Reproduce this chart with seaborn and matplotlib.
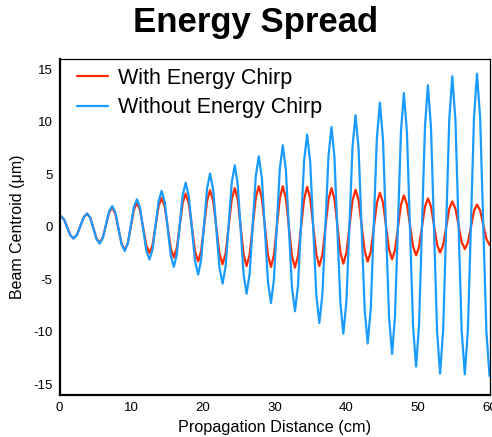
import matplotlib
matplotlib.use("Agg")
import matplotlib.pyplot as plt
from matplotlib.ticker import MultipleLocator
import seaborn as sns
import pandas as pd

distance = [
    0.0,
    0.2, 0.64, 1.08, 1.51,
    1.95, 2.43, 2.9, 3.38,
    3.85, 4.29, 4.73, 5.16,
    5.6, 6.04, 6.48, 6.91,
    7.35, 7.79, 8.23, 8.66,
    9.1, 9.53, 9.95, 10.38,
    10.8, 11.24, 11.68, 12.11,
    12.55, 12.98, 13.4, 13.83,
    14.25, 14.68, 15.1, 15.53,
    15.95, 16.36, 16.78, 17.19,
    17.6, 18.04, 18.48, 18.91,
    19.35, 19.76, 20.18, 20.59,
    21.0, 21.44, 21.88, 22.31,
    22.75, 23.18, 23.6, 24.03,
    24.45, 24.86, 25.28, 25.69,
    26.1, 26.53, 26.95, 27.38,
    27.8, 28.23, 28.65, 29.08,
    29.5, 29.91, 30.33, 30.74,
    31.15, 31.58, 32.0, 32.43,
    32.85, 33.28, 33.7, 34.13,
    34.55, 34.98, 35.4, 35.83,
    36.25, 36.68, 37.1, 37.53,
    37.95, 38.36, 38.78, 39.19,
    39.6, 40.03, 40.45, 40.88,
    41.3, 41.73, 42.15, 42.58,
    43.0, 43.43, 43.85, 44.28,
    44.7, 45.13, 45.55, 45.98,
    46.4, 46.81, 47.23, 47.64,
    48.05, 48.48, 48.9, 49.33,
    49.75, 50.16, 50.58, 50.99,
    51.4, 51.83, 52.25, 52.68,
    53.1, 53.53, 53.95, 54.38,
    54.8, 55.24, 55.68, 56.11,
    56.55, 56.98, 57.4, 57.83,
    58.25, 58.69, 59.13, 59.56,
    60.0,
]

# Beam centroid (um) without energy chirp
without_chirp = [
    0.98,
    1.02, 0.71, -0.04, -0.79,
    -1.10, -0.75, 0.09, 0.93,
    1.28, 0.86, -0.15, -1.16,
    -1.58, -1.06, 0.21, 1.48,
    2.00, 1.37, -0.14, -1.65,
    -2.28, -1.56, 0.18, 1.92,
    2.64, 1.80, -0.23, -2.26,
    -3.10, -2.14, 0.17, 2.48,
    3.43, 2.37, -0.19, -2.75,
    -3.80, -2.63, 0.21, 3.05,
    4.22, 2.93, -0.16, -3.25,
    -4.53, -3.12, 0.28, 3.68,
    5.08, 3.54, -0.16, -3.86,
    -5.39, -3.73, 0.25, 4.23,
    5.88, 4.08, -0.24, -4.56,
    -6.35, -4.43, 0.19, 4.81,
    6.73, 4.68, -0.26, -5.20,
    -7.24, -5.04, 0.27, 5.58,
    7.78, 5.46, -0.13, -5.72,
    -8.03, -5.56, 0.39, 6.34,
    8.80, 6.17, -0.17, -6.51,
    -9.14, -6.41, 0.19, 6.79,
    9.52, 6.63, -0.32, -7.27,
    -10.15, -7.10, 0.25, 7.60,
    10.64, 7.46, -0.23, -7.92,
    -11.10, -7.73, 0.38, 8.49,
    11.85, 8.34, -0.13, -8.60,
    -12.10, -8.46, 0.33, 9.12,
    12.76, 8.94, -0.27, -9.48,
    -13.30, -9.37, 0.10, 9.57,
    13.50, 9.48, -0.23, -9.94,
    -13.96, -9.81, 0.20, 10.21,
    14.35, 10.19, 0.16, -9.87,
    -14.03, -9.83, 0.29, 10.41,
    14.60, 10.38, 0.20, -9.98,
    -14.20,
]

# Beam centroid (um) with energy chirp
with_chirp = [
    0.98,
    1.02, 0.71, -0.04, -0.79,
    -1.10, -0.75, 0.09, 0.93,
    1.28, 0.87, -0.11, -1.09,
    -1.50, -1.00, 0.18, 1.36,
    1.85, 1.25, -0.18, -1.61,
    -2.20, -1.54, 0.05, 1.64,
    2.30, 1.60, -0.09, -1.78,
    -2.47, -1.70, 0.15, 2.00,
    2.76, 1.93, -0.07, -2.07,
    -2.90, -2.01, 0.14, 2.29,
    3.18, 2.23, -0.05, -2.33,
    -3.27, -2.27, 0.12, 2.51,
    3.50, 2.46, -0.03, -2.52,
    -3.55, -2.49, 0.08, 2.65,
    3.71, 2.63, 0.00, -2.63,
    -3.72, -2.61, 0.08, 2.77,
    3.88, 2.76, 0.04, -2.68,
    -3.81, -2.68, 0.04, 2.76,
    3.88, 2.74, 0.00, -2.74,
    -3.87, -2.75, -0.03, 2.69,
    3.82, 2.72, 0.05, -2.62,
    -3.72, -2.63, -0.01, 2.61,
    3.70, 2.65, 0.10, -2.45,
    -3.50, -2.46, 0.03, 2.52,
    3.55, 2.55, 0.13, -2.29,
    -3.30, -2.34, -0.02, 2.30,
    3.26, 2.33, 0.09, -2.15,
    -3.08, -2.19, -0.04, 2.11,
    3.00, 2.16, 0.15, -1.86,
    -2.70, -1.91, 0.01, 1.93,
    2.72, 1.96, 0.14, -1.68,
    -2.44, -1.72, 0.00, 1.72,
    2.43, 1.77, 0.17, -1.43,
    -2.10, -1.48, 0.02, 1.52,
    2.13, 1.57, 0.22, -1.13,
    -1.70,
]

series_names = ["With Energy Chirp", "Without Energy Chirp"]
series_colors = ["#ff2a00", "#1a9bff"]

x_ticks = [0, 10, 20, 30, 40, 50, 60]
y_ticks = [-15, -10, -5, 0, 5, 10, 15]

df = pd.concat([
    pd.DataFrame({"x": distance, "y": with_chirp, "series": series_names[0]}),
    pd.DataFrame({"x": distance, "y": without_chirp, "series": series_names[1]}),
], ignore_index=True)

sns.set_style("white")
plt.rcParams["font.family"] = ["Liberation Sans", "DejaVu Sans"]
plt.rcParams["axes.unicode_minus"] = False
plt.rcParams["text.color"] = "black"
plt.rcParams["axes.labelcolor"] = "black"
plt.rcParams["xtick.color"] = "black"
plt.rcParams["ytick.color"] = "black"

fig = plt.figure(figsize=(4.92, 4.37), dpi=100)
ax = fig.add_axes([0.121, 0.0961, 0.874, 0.769])

sns.lineplot(data=df, x="x", y="y", hue="series", hue_order=series_names,
             palette=dict(zip(series_names, series_colors)),
             estimator=None, sort=False, linewidth=1.6, ax=ax)

ax.set_xlim(0, 60)
ax.set_ylim(-16, 16)
ax.set_xticks(x_ticks)
ax.set_yticks(y_ticks)
ax.xaxis.set_minor_locator(MultipleLocator(2))
ax.yaxis.set_minor_locator(MultipleLocator(1))
ax.tick_params(which="major", direction="in", length=6, width=1, colors="black",
               labelcolor="black", labelsize=9.5, pad=5, top=False, right=False)
ax.tick_params(which="minor", direction="in", length=3, width=0.9, colors="black",
               top=False, right=False)

for side in ["left", "bottom"]:
    ax.spines[side].set_linewidth(1.6)
    ax.spines[side].set_color("black")
for side in ["top", "right"]:
    ax.spines[side].set_linewidth(0.9)
    ax.spines[side].set_color("black")

ax.set_xlabel("Propagation Distance (cm)", fontsize=11.7, labelpad=4, color="black")
ax.set_ylabel("Beam Centroid (μm)", fontsize=11.5, labelpad=6, color="black")

handles, labels = ax.get_legend_handles_labels()
leg = ax.legend(handles, labels, loc="upper left", bbox_to_anchor=(0.041, 0.973),
                frameon=False, fontsize=15.5, handlelength=1.45, handletextpad=0.45,
                labelspacing=0.38, borderpad=0, borderaxespad=0)
for t in leg.get_texts():
    t.set_color("black")

fig.text(0.519, 0.927, "Energy Spread", ha="center", va="baseline",
         fontsize=25, fontweight="bold", color="black")

fig.savefig("out.png", dpi=100)
